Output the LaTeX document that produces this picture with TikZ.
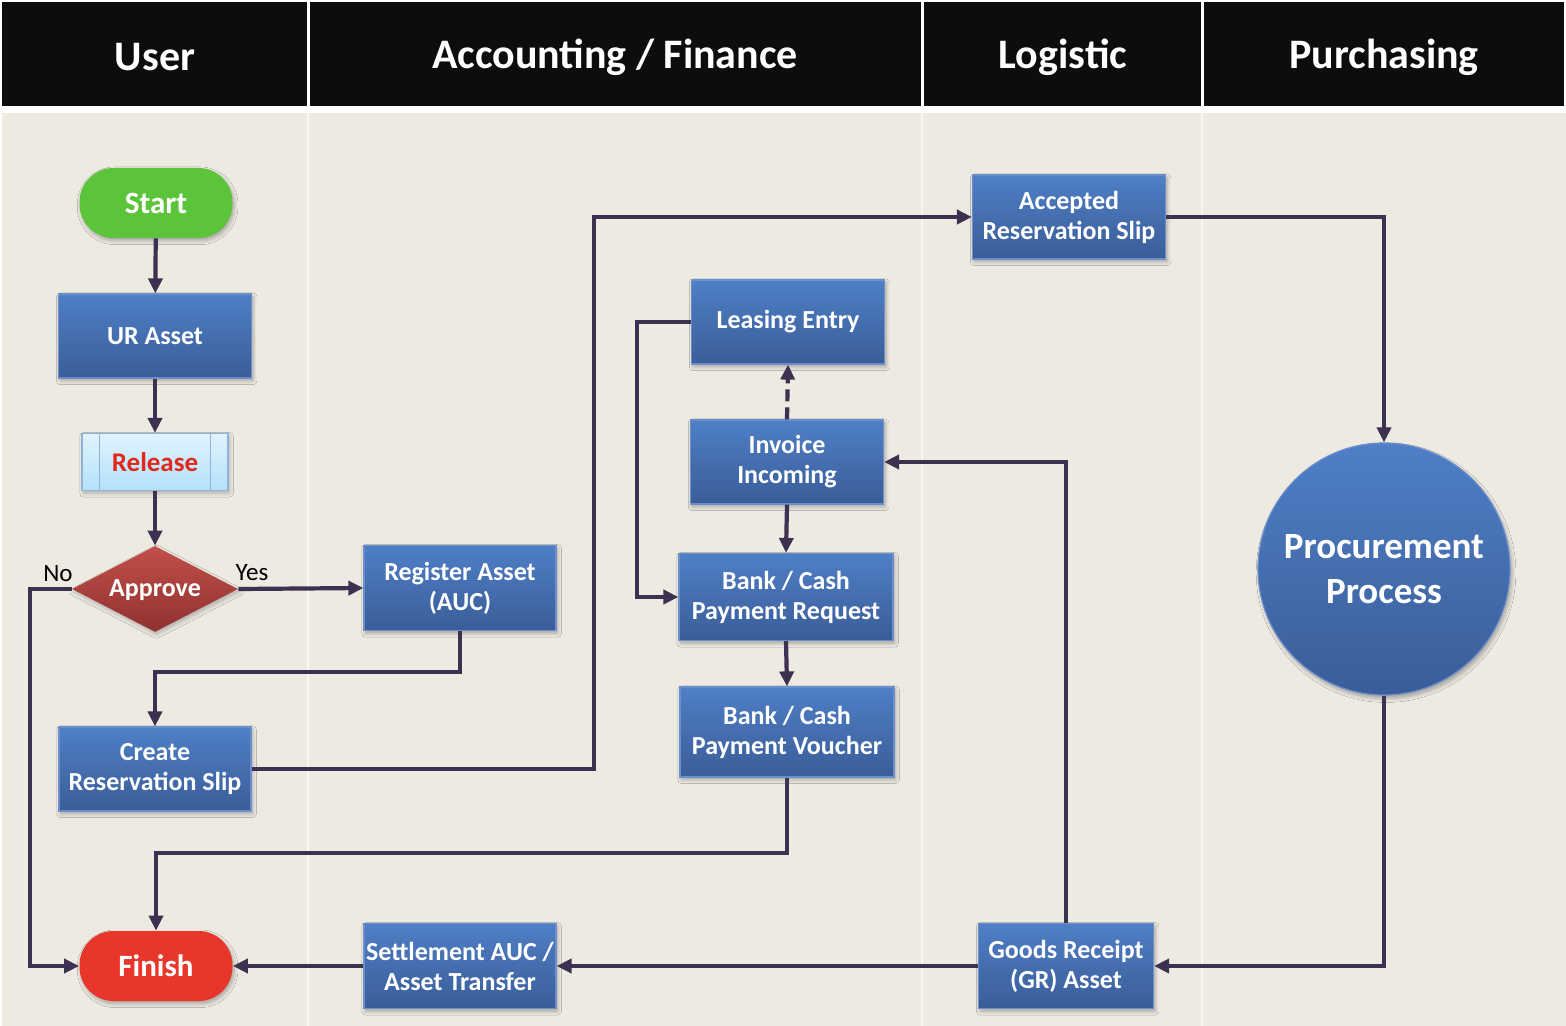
\documentclass[tikz,border=0pt]{standalone}
\usepackage{fontspec}
\setmainfont{Carlito}
\usetikzlibrary{arrows.meta,shapes.geometric,shadows.blur,calc}
\definecolor{lanebg}{HTML}{EDEAE2}
\definecolor{conn}{HTML}{3D3050}
\definecolor{boxtop}{HTML}{4F7FC6}
\definecolor{boxbot}{HTML}{3A5D98}
\definecolor{boxline}{HTML}{6A8FCC}
\definecolor{reltop}{HTML}{E2F3FD}
\definecolor{relbot}{HTML}{B3E1FA}
\definecolor{relline}{HTML}{8FB2DE}
\definecolor{reltext}{HTML}{E0281E}
\definecolor{dtop}{HTML}{C24E48}
\definecolor{dbot}{HTML}{8F3230}
\definecolor{startg}{HTML}{5CC43B}
\definecolor{finishr}{HTML}{E8362A}
\tikzset{
  procbox/.style={rectangle, draw=boxline, line width=0.6pt, top color=boxtop, bottom color=boxbot,
    text=white, font=\fontsize{13}{15}\selectfont\bfseries, align=center, inner sep=0pt,
    blur shadow={shadow xshift=0.8pt, shadow yshift=-1.4pt, shadow blur steps=6, shadow opacity=30}},
  pill/.style={rectangle, rounded corners=17pt, text=white, inner sep=0pt,
    minimum width=76.5pt, minimum height=35pt, font=\fontsize{15.5}{17}\selectfont\bfseries,
    blur shadow={shadow xshift=0.8pt, shadow yshift=-1.4pt, shadow blur steps=6, shadow opacity=30}},
  hdr/.style={text=white, font=\fontsize{21}{24}\selectfont\bfseries},
  conline/.style={draw=conn, line width=2.1pt, -{Triangle[length=7.5pt,width=7pt]}},
}
\begin{document}
\begin{tikzpicture}[x=0.5pt,y=-0.5pt]
\useasboundingbox (0,0) rectangle (1566,1026);
\fill[white] (0,0) rectangle (1566,1026);
% header
\fill[black!95] (2,2) rectangle (307,106);
\fill[black!95] (310,2) rectangle (921,106);
\fill[black!95] (924,2) rectangle (1201,106);
\fill[black!95] (1204,2) rectangle (1564,106);
\node[hdr] (hUser) at (155,57) {User};
\node[hdr] (hAcc) at (615,57) {Accounting / Finance};
\node[hdr] (hLog) at (1063,57) {Logistic};
\node[hdr] (hPur) at (1384,57) {Purchasing};
% lanes
\fill[lanebg] (2,113) rectangle (1566,1026);
\draw[white!60!lanebg, line width=1.2pt] (308,113) -- (308,1026);
\draw[white!60!lanebg, line width=1.2pt] (922,113) -- (922,1026);
\draw[white!60!lanebg, line width=1.2pt] (1202,113) -- (1202,1026);

% nodes
\node[pill, fill=startg] (start) at (156,203) {Start};
\node[procbox, minimum width=96.5pt, minimum height=42pt] (ur) at (155,336) {UR Asset};
\node[rectangle, draw=relline, line width=0.6pt, top color=reltop, bottom color=relbot,
  minimum width=73pt, minimum height=28.5pt, inner sep=0pt, text=reltext,
  font=\fontsize{13.5}{15}\selectfont\bfseries,
  blur shadow={shadow xshift=0.8pt, shadow yshift=-1.4pt, shadow blur steps=6, shadow opacity=25}]
  (release) at (155,462) {Release};
\draw[relline, line width=0.6pt] ($(release.north west)+(9pt,0)$) -- ($(release.south west)+(9pt,0)$);
\draw[relline, line width=0.6pt] ($(release.north east)+(-9pt,0)$) -- ($(release.south east)+(-9pt,0)$);
\node[diamond, minimum width=83pt, minimum height=43pt, shape aspect=1.93, inner sep=0pt,
  top color=dtop, bottom color=dbot,
  blur shadow={shadow xshift=0.8pt, shadow yshift=-1.4pt, shadow blur steps=6, shadow opacity=25}]
  (approve) at (155,589) {};
\node[text=white, font=\fontsize{13}{15}\selectfont\bfseries] (approvetxt) at (155,590) {Approve};
\node[font=\fontsize{12.5}{14}\selectfont] (nolbl) at (58,574) {No};
\node[font=\fontsize{12.5}{14}\selectfont] (yeslbl) at (252,573) {Yes};
\node[procbox, minimum width=96pt, minimum height=42.5pt] (reg) at (460,588) {Register Asset\\(AUC)};
\node[procbox, minimum width=96pt, minimum height=42pt] (create) at (155,769) {Create\\Reservation Slip};
\node[procbox, minimum width=96.5pt, minimum height=42pt] (accepted) at (1069,217) {Accepted\\Reservation Slip};
\node[procbox, minimum width=96.5pt, minimum height=42pt] (leasing) at (788,322) {Leasing Entry};
\node[procbox, minimum width=96.5pt, minimum height=42pt] (invoice) at (787,462) {Invoice\\Incoming};
\node[procbox, minimum width=107pt, minimum height=43.5pt] (bankreq) at (786,597) {Bank / Cash\\Payment Request};
\node[procbox, minimum width=107pt, minimum height=45pt] (voucher) at (787,732) {Bank / Cash\\Payment Voucher};
\node[circle, minimum size=126pt, inner sep=0pt, top color=boxtop, bottom color=boxbot, draw=boxline, line width=0.6pt,
  text=white, align=center, font=\fontsize{18.5}{22.5}\selectfont\bfseries,
  blur shadow={shadow xshift=1pt, shadow yshift=-1.8pt, shadow blur steps=6, shadow opacity=30}]
  (proc) at (1384,569) {Procurement\\Process};
\node[pill, fill=finishr] (finish) at (156,966) {Finish};
\node[procbox, minimum width=96pt, minimum height=42.5pt] (settle) at (460,966) {Settlement AUC /\\Asset Transfer};
\node[procbox, minimum width=87.5pt, minimum height=42.5pt] (gr) at (1066,966) {Goods Receipt\\(GR) Asset};

% connectors
\draw[conline] (start) -- (ur);
\draw[conline] (ur) -- (release);
\draw[conline] (release) -- (approve);
\draw[conline] (approve.east) -- (reg.west);
\draw[conline] (approve.west) -| (30,966) -- (finish.west);
\draw[conline] (reg.south) -- (reg.south |- 0,672) -| (create.north);
\draw[conline] (create.east) -| (594,217) -- (accepted.west);
\draw[conline] (accepted.east) -| (proc.north);
\draw[conline] (proc.south) |- (gr.east);
\draw[conline] (gr.west) -- (settle.east);
\draw[conline] (settle.west) -- (finish.east);
\draw[conline] (gr.north) |- (invoice.east);
\draw[conline, dash pattern=on 6pt off 3pt] (invoice.north) -- (leasing.south);
\draw[conline] (invoice.south) -- (bankreq.north);
\draw[conline] (leasing.west) -| (637,597) -- (bankreq.west);
\draw[conline] (bankreq.south) -- (voucher.north);
\draw[conline] (voucher.south) -- (voucher.south |- 0,853) -| (finish.north);
\end{tikzpicture}
\end{document}
